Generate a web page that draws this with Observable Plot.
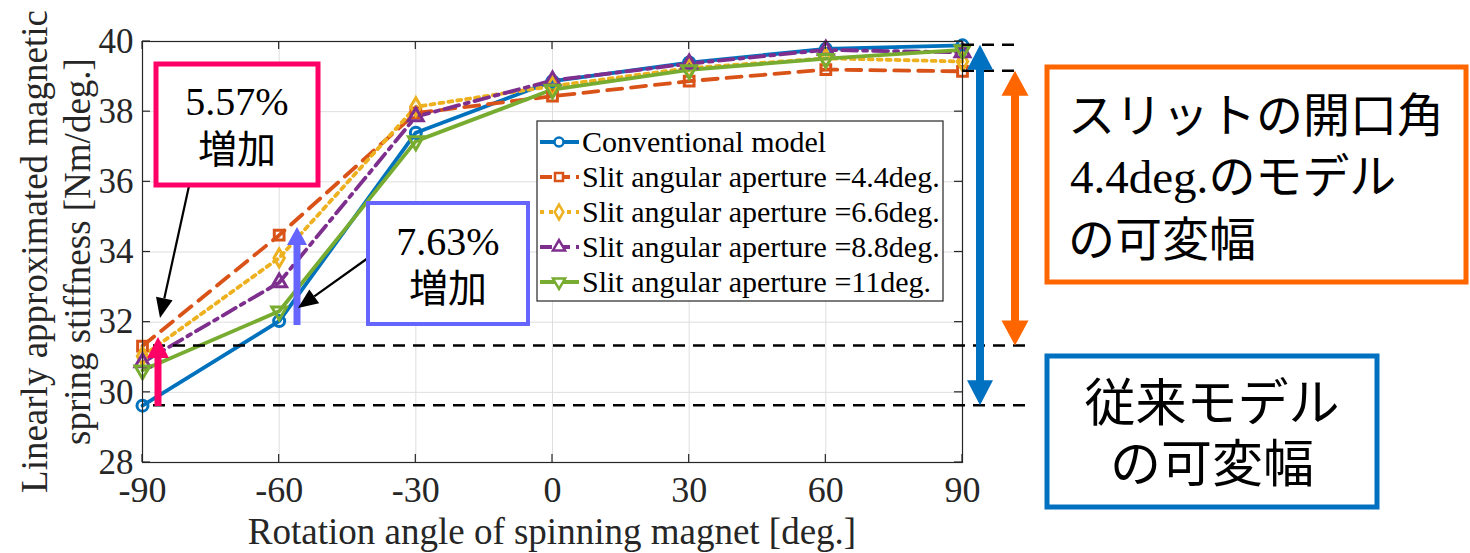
<!DOCTYPE html>
<html><head><meta charset="utf-8">
<script src="https://cdn.jsdelivr.net/npm/d3@7"></script>
<script src="https://cdn.jsdelivr.net/npm/@observablehq/plot@0.6"></script>
<style>html,body{margin:0;padding:0;background:#fff;} svg{display:block}</style>
</head><body><div id="chart"></div>
<script>
// ---- data ----
const angles = [-90, -60, -30, 0, 30, 60, 90];
const conventional = [29.62, 32.03, 37.40, 38.87, 39.40, 39.79, 39.89];
const slit44 = [31.32, 34.48, 37.96, 38.44, 38.87, 39.20, 39.15];
const slit66 = [31.03, 33.83, 38.14, 38.73, 39.24, 39.52, 39.43];
const slit88 = [30.85, 33.13, 37.86, 38.89, 39.37, 39.76, 39.69];
const slit11 = [30.63, 32.31, 37.16, 38.63, 39.19, 39.51, 39.76];
const seriesNames = [
  "Conventional model",
  "Slit angular aperture =4.4deg.",
  "Slit angular aperture =6.6deg.",
  "Slit angular aperture =8.8deg.",
  "Slit angular aperture =11deg."
];
const seriesValues = [conventional, slit44, slit66, slit88, slit11];
const xTicks = [-90, -60, -30, 0, 30, 60, 90];
const yTicks = [28, 30, 32, 34, 36, 38, 40];
const xLabel = "Rotation angle of spinning magnet [deg.]";
const yLabelLines = ["Linearly approximated magnetic", "spring stiffness [Nm/deg.]"];
const note1 = ["5.57%", "増加"];
const note2 = ["7.63%", "増加"];
const noteSlit = ["スリットの開口角", "4.4deg.", "のモデル", "の可変幅"];
const noteConv = ["従来モデル", "の可変幅"];

// ---- styles ----
const colors = ["#0072BD", "#D95319", "#EDB120", "#7E2F8E", "#77AC30"];
const dashes = [null, "15,9", "4,5", "15,6,4,6", null];
const symbols = ["circle", "square", "diamond", "triangle", "triangle"];
const rotates = [0, 0, 0, 0, 180];
const SERIF = "'Liberation Serif','Times New Roman',serif";
const CJK = "'Noto Sans CJK JP','Noto Sans',sans-serif";

(function () {
const rows = seriesNames.flatMap((name, i) =>
  angles.map((a, j) => ({series: name, idx: i, angle: a, value: seriesValues[i][j]})));

const lineMarks = seriesNames.map((name, i) =>
  Plot.line(rows.filter(r => r.idx === i), {
    x: "angle", y: "value", stroke: colors[i], strokeWidth: 3.8,
    strokeDasharray: dashes[i] ?? undefined
  }));
const dotMarks = seriesNames.map((name, i) =>
  Plot.dot(rows.filter(r => r.idx === i), {
    x: "angle", y: "value", stroke: colors[i], strokeWidth: 3, fill: "none",
    symbol: symbols[i], r: 5.5, rotate: rotates[i]
  }));

const chart = Plot.plot({
  width: 1470, height: 553,
  marginLeft: 142, marginRight: 508, marginTop: 41, marginBottom: 91,
  style: {fontFamily: SERIF, background: "white", color: "#262626", overflow: "visible"},
  x: {domain: [-90, 90], label: null},
  y: {domain: [28, 40], label: null},
  marks: [
    Plot.gridX({ticks: xTicks, stroke: "#dedede", strokeOpacity: 1, strokeWidth: 1}),
    Plot.gridY({ticks: yTicks, stroke: "#dedede", strokeOpacity: 1, strokeWidth: 1}),
    Plot.axisX({ticks: xTicks, tickSize: 0, tickPadding: 14, fontSize: 36, tickFormat: d => String(d), fill: "#262626", label: null}),
    Plot.axisY({ticks: yTicks, tickSize: 0, tickPadding: 9, fontSize: 35, tickFormat: d => String(d), fill: "#262626", label: null}),
    ...lineMarks,
    ...dotMarks,
    Plot.frame({stroke: "#262626", strokeWidth: 1.2})
  ]
});
document.getElementById("chart").appendChild(chart);

const svg = d3.select(chart);
const xs = chart.scale("x"), ys = chart.scale("y");
const X = v => xs.apply(v), Y = v => ys.apply(v);
const pLeft = X(-90), pRight = X(90), pTop = Y(40), pBottom = Y(28);

function txt(g, x, y, s, family, size, anchor) {
  return g.append("text").attr("x", x).attr("y", y)
    .style("font-family", family).style("font-size", size + "px")
    .style("text-anchor", anchor || "start").style("fill", "#000").text(s);
}

// inward ticks (all four sides)
const tk = svg.append("g").attr("stroke", "#262626").attr("stroke-width", 1.2);
xTicks.forEach(t => {
  tk.append("line").attr("x1", X(t)).attr("x2", X(t)).attr("y1", pBottom).attr("y2", pBottom - 8);
  tk.append("line").attr("x1", X(t)).attr("x2", X(t)).attr("y1", pTop).attr("y2", pTop + 8);
});
yTicks.forEach(t => {
  tk.append("line").attr("y1", Y(t)).attr("y2", Y(t)).attr("x1", pLeft).attr("x2", pLeft + 8);
  tk.append("line").attr("y1", Y(t)).attr("y2", Y(t)).attr("x1", pRight).attr("x2", pRight - 8);
});

// axis labels
txt(svg, (pLeft + pRight) / 2, 544, xLabel, SERIF, 37, "middle").style("fill", "#262626");
yLabelLines.forEach((t, i) => {
  txt(svg, 0, 0, t, SERIF, 37, "middle").style("fill", "#262626")
    .attr("transform", `translate(${47 + i * 43},${(pTop + pBottom) / 2}) rotate(-90)`);
});

// legend
const lg = svg.append("g");
lg.append("rect").attr("x", 537).attr("y", 121).attr("width", 406).attr("height", 180)
  .attr("fill", "white").attr("stroke", "#262626").attr("stroke-width", 1.2);
const symMap = {circle: d3.symbolCircle, square: d3.symbolSquare, diamond: d3.symbolDiamond, triangle: d3.symbolTriangle};
seriesNames.forEach((name, i) => {
  const cy = 142 + i * 35;
  lg.append("line").attr("x1", 540).attr("x2", 579).attr("y1", cy).attr("y2", cy)
    .attr("stroke", colors[i]).attr("stroke-width", 3.8).attr("stroke-dasharray", dashes[i] ? (i === 2 ? "4,5" : "12,6") : null);
  lg.append("path").attr("d", d3.symbol(symMap[symbols[i]], Math.PI * 4.5 * 4.5)())
    .attr("transform", `translate(559,${cy}) rotate(${rotates[i]})`)
    .attr("fill", "white").attr("stroke", colors[i]).attr("stroke-width", 2.5);
  txt(lg, 582, cy + 10, name, SERIF, 30, "start");
});

// reference dashed lines
const dl = svg.append("g").attr("stroke", "#000").attr("stroke-width", 2.5).attr("stroke-dasharray", "12,8");
dl.append("line").attr("x1", pRight).attr("x2", 1016).attr("y1", Y(conventional[6])).attr("y2", Y(conventional[6]));
dl.append("line").attr("x1", pRight).attr("x2", 1020).attr("y1", Y(slit44[6])).attr("y2", Y(slit44[6]));
dl.append("line").attr("x1", 153).attr("x2", 1032).attr("y1", Y(slit44[0])).attr("y2", Y(slit44[0]));
dl.append("line").attr("x1", 153).attr("x2", 1032).attr("y1", Y(conventional[0])).attr("y2", Y(conventional[0]));

// arrow helpers
function upArrow(g, x, yBot, yTip, hw, hl, sw, color) {
  const pts = [[x, yTip], [x + hw, yTip + hl], [x + sw, yTip + hl], [x + sw, yBot], [x - sw, yBot], [x - sw, yTip + hl], [x - hw, yTip + hl]];
  g.append("polygon").attr("points", pts.map(p => p.join(",")).join(" ")).attr("fill", color);
}
function doubleArrow(g, x, yTop, yBot, hw, hl, sw, color) {
  const pts = [[x, yTop], [x + hw, yTop + hl], [x + sw, yTop + hl], [x + sw, yBot - hl], [x + hw, yBot - hl], [x, yBot],
    [x - hw, yBot - hl], [x - sw, yBot - hl], [x - sw, yTop + hl], [x - hw, yTop + hl]];
  g.append("polygon").attr("points", pts.map(p => p.join(",")).join(" ")).attr("fill", color);
}
function thinArrow(g, x1, y1, x2, y2, len, w) {
  const a = Math.atan2(y2 - y1, x2 - x1);
  const bx = x2 - len * Math.cos(a), by = y2 - len * Math.sin(a);
  const px = -Math.sin(a) * w / 2, py = Math.cos(a) * w / 2;
  g.append("line").attr("x1", x1).attr("y1", y1).attr("x2", bx).attr("y2", by).attr("stroke", "#000").attr("stroke-width", 2.2);
  g.append("polygon").attr("points", `${x2},${y2} ${bx + px},${by + py} ${bx - px},${by - py}`).attr("fill", "#000");
}
const an = svg.append("g");
upArrow(an, 158, 406, 337, 11, 21, 3.5, "#FF0066");
upArrow(an, 297, 325, 227, 10, 18, 3.5, "#6666FF");
doubleArrow(an, 980, Y(conventional[6]), Y(conventional[0]), 13, 25, 4, "#0070C0");
doubleArrow(an, 1015, Y(slit44[6]), Y(slit44[0]), 13.5, 25, 4, "#FF6600");
thinArrow(an, 189, 186, 160, 318, 20, 17);
thinArrow(an, 368, 258, 298, 308, 20, 17);

// boxes
function box(x, y, w, h, color, sw) {
  an.append("rect").attr("x", x).attr("y", y).attr("width", w).attr("height", h)
    .attr("fill", "white").attr("stroke", color).attr("stroke-width", sw);
}
box(156, 64, 162, 121, "#FF0066", 5);
txt(an, 237, 115, note1[0], SERIF, 40, "middle");
txt(an, 237, 163, note1[1], CJK, 39, "middle");
box(368, 203, 160, 121, "#6666FF", 4);
txt(an, 448, 255, note2[0], SERIF, 40, "middle");
txt(an, 448, 302, note2[1], CJK, 39, "middle");

box(1047, 67, 419, 215, "#FF6600", 5);
txt(an, 1068, 132, noteSlit[0], CJK, 47, "start");
const t2 = txt(an, 1070, 193, "", SERIF, 47, "start");
t2.append("tspan").style("font-family", SERIF).text(noteSlit[1]);
t2.append("tspan").style("font-family", CJK).text(noteSlit[2]);
txt(an, 1068, 256, noteSlit[3], CJK, 47, "start");

box(1047, 356, 330, 151, "#0070C0", 5);
txt(an, 1212, 421, noteConv[0], CJK, 51, "middle");
txt(an, 1212, 482, noteConv[1], CJK, 51, "middle");
})();
</script>
</body></html>
